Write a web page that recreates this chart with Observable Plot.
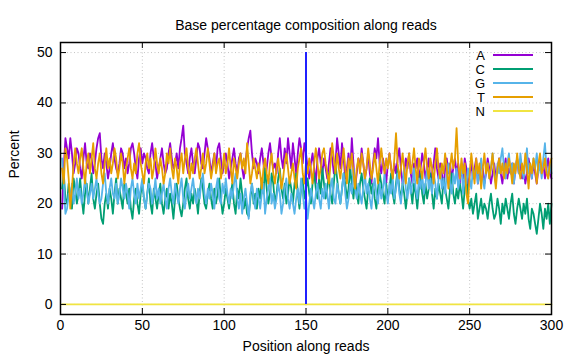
<!DOCTYPE html>
<html><head><meta charset="utf-8">
<script src="https://cdn.jsdelivr.net/npm/d3@7"></script>
<script src="https://cdn.jsdelivr.net/npm/@observablehq/plot@0.6"></script>
<style>body{margin:0;background:#fff;} svg{display:block;}</style>
</head><body><div id="chart"></div>
<script>
const bases = ["A", "C", "G", "T", "N"];
const colors = ["#9400d3", "#009e73", "#56b4e9", "#e69f00", "#f0e442"];
const xTicks = [0, 50, 100, 150, 200, 250, 300];
const yTicks = [0, 10, 20, 30, 40, 50];
const readBoundary = [150];
const title = "Base percentage composition along reads";
const xLabel = "Position along reads";
const yLabel = "Percent";

const A = [
19,27,33,31,29,33,30,26,28,31, 30,27,25,29,32,28,27,30,29,26,
28,31,33,34,29,27,30,28,25,27, 30,32,29,27,26,28,31,30,27,29,
26,28,31,32,30,27,25,29,31,28, 30,29,27,26,30,32,29,28,25,27,
29,31,28,26,27,30,32,29,27,28, 30,27,31,33,35.5,30,28,26,29,31,
28,26,29,32,31,28,27,30,33,31, 29,26,28,30,27,31,32,29,26,28,
30,28,25,27,29,31,28,26,29,30, 27,25,28,31,33,34.5,30,27,29,28,
26,29,31,28,25,27,30,32,29,27, 28,26,30,33,29,27,31,28,33,30,
27,32,29,26,30,33,31,28,32,30, 27,25,28,30,27,24,29,31,28,26,
29,27,25,28,31,29,26,28,33,30, 27,32,29,25,27,30,26,33,28,23,
26,29,27,31,28,25,27,30,26,24, 28,31,29,33,28,26,29,27,24,28,
30,27,25,28,26,29,31,27,24,26, 29,27,30,26,24,28,27,29,25,27,
30,28,25,27,29,24,26,28,31,27, 25,28,26,23,27,29,26,28,25,27,
29,26,28,24,27,25,29,27,23,26, 28,25,27,29,24,26,28,27,24,26,
29,27,24,26,28,25,27,29,26,24, 27,29,25,27,26,28,24,27,29,26,
28,25,27,24,26,29,27,25,28,26, 24,27,29,26,28,25,27,29,26,25
];
const C = [
23,26,21,20,24,22,19,25,23,20, 22,25,21,18,22,24,20,23,26,21,
19,22,24,20,17,16,20,22,19,23, 21,18,22,25,20,23,21,19,24,22,
20,23,19,17,21,23,20,18,22,24, 21,19,22,25,20,18,23,21,19,22,
24,20,18,21,23,19,22,20,17,21, 24,21,19,17.5,20,23,25,21,19,22,
20,23,21,18,22,25,23,20,19,22, 24,21,19,23,20,22,25,21,18,20,
23,21,19,22,24,20,18,23,21,25, 22,19,21,18,17.5,21,24,20,22,19,
23,21,25,22,27,23,20,22,26,24, 20,22,25,27,23,21,24,20,22,25,
23,20,24,26,22,19,23,25,21,23, 25,22,20,24,26,23,21,25,22,27,
24,21,23,26,22,20,24,28,25,22, 20,23,26,24,21,23,27,24,21,25,
22,20,24,26,23,21,19,23,25,22, 24,21,19,23,26,24,22,20,24,21,
23,26,22,20,24,27,23,21,24,22, 19,22,25,23,20,24,22,19,23,26,
22,20,24,21,23,26,22,19,23,21, 24,22,20,25,23,21,19,23,26,22,
20,23,21,24,22,19,23,25,21,19, 21,18,20,22,17,19,21,18,20,19,
17,20,22,19,17,18,21,19,16,20, 18,21,19,17,20,22,18,16,19,21,
19,17,20,18,21,17,15,19,18,16, 14,17,20,18,15,19,17,20,16,20
];
const G = [
29,24,18,19,22,21,24,20,22,25, 21,23,20,22,25,23,20,22,24,21,
23,25,22,20,21,24,26,22,20,23, 25,22,21,24,20,22,25,23,21,24,
22,19,23,25,22,20,24,21,23,25, 21,19,22,24,23,20,22,25,21,23,
20,22,24,21,19,23,25,22,20,24, 22,20,23,25,21,19,22,24,21,23,
25,22,20,23,21,24,26,22,20,23, 21,24,22,19,23,25,21,20,24,22,
25,22,20,23,21,24,26,21,19,22, 18,21,23,20,17,22,24,21,19,23,
21,19,22,24,18,21,23,25,20,22, 19,21,24,22,18,20,23,25,21,19,
22,20,18,21,23,20,25,22,19,21, 17,20,23,21,19,22,24,21,19,23,
21,24,22,19,23,25,21,20,24,22, 20,23,26,22,19,21,24,22,27,23,
21,24,22,20,23,26,22,24,21,19, 23,25,22,20,24,21,23,26,22,20,
24,22,25,21,23,26,22,20,24,27, 23,21,25,22,24,27,23,21,25,23,
26,22,24,27,23,25,22,26,24,21, 25,27,23,25,22,26,28,24,22,26,
24,27,23,25,28,22,26,24,27,25, 23,27,25,28,24,26,29,25,23,27,
28,25,27,30,26,24,28,26,29,31, 27,25,28,30,26,28,24,27,29,26,
30,27,25,28,31,26,28,25,29,27, 30,26,28,25,29,32,27,25,28,26
];
const T = [
27,24,31,29,25,19,23,28,31,28, 26,29,31,27,24,28,30,26,29,32,
27,25,28,30,26,24,28,31,27,29, 26,28,31,29,25,27,30,28,24,27,
29,31,27,25,28,26,30,32,28,26, 24,28,30,27,29,25,27,31,28,26,
29,27,24,26,30,28,31,27,25,29, 27,24,28,30,26,29,31,27,25,28,
26,29,31,28,25,27,30,26,28,31, 28,25,27,30,26,28,29,25,27,30,
26,28,31,27,24,29,27,25,28,30, 27,29,26,32,28,24,26,29,27,25,
28,26,23,27,29,26,24,28,30,26, 24,27,29,26,23,25,28,30,27,24,
26,28,25,23,27,29,31,26,24,28, 26,29,27,24,28,31,28,25,27,30,
31,28,26,24,28,32,29,26,30,27, 25,28,31,27,24,29,27,30,26,23,
27,29,26,30,28,25,27,31,28,25, 27,30,27,24,28,31,28,26,29,27,
30,27,25,29,34,28,25,27,30,27, 24,28,30,26,28,31,27,24,29,27,
25,28,31,27,25,29,27,24,28,31, 27,25,28,26,30,27,23,27,30,27,
29,35,28,25,29,26,28,22,20,26, 30,27,24,29,26,28,23,27,30,26,
28,25,27,30,26,23,27,29,26,28, 25,28,26,29,27,24,28,26,30,27,
25,28,26,30,27,23,28,26,29,27, 24,28,30,26,27,29,26,25,28,29
];
const N = [
0,0,0,0,0,0,0,0,0,0, 0,0,0,0,0,0,0,0,0,0, 0,0,0,0,0,0,0,0,0,0,
0,0,0,0,0,0,0,0,0,0, 0,0,0,0,0,0,0,0,0,0, 0,0,0,0,0,0,0,0,0,0,
0,0,0,0,0,0,0,0,0,0, 0,0,0,0,0,0,0,0,0,0, 0,0,0,0,0,0,0,0,0,0,
0,0,0,0,0,0,0,0,0,0, 0,0,0,0,0,0,0,0,0,0, 0,0,0,0,0,0,0,0,0,0,
0,0,0,0,0,0,0,0,0,0, 0,0,0,0,0,0,0,0,0,0, 0,0,0,0,0,0,0,0,0,0,
0,0,0,0,0,0,0,0,0,0, 0,0,0,0,0,0,0,0,0,0, 0,0,0,0,0,0,0,0,0,0,
0,0,0,0,0,0,0,0,0,0, 0,0,0,0,0,0,0,0,0,0, 0,0,0,0,0,0,0,0,0,0,
0,0,0,0,0,0,0,0,0,0, 0,0,0,0,0,0,0,0,0,0, 0,0,0,0,0,0,0,0,0,0,
0,0,0,0,0,0,0,0,0,0, 0,0,0,0,0,0,0,0,0,0, 0,0,0,0,0,0,0,0,0,0,
0,0,0,0,0,0,0,0,0,0, 0,0,0,0,0,0,0,0,0,0, 0,0,0,0,0,0,0,0,0,0
];
const positions = A.map((_, i) => i + 1);
const series = [A, C, G, T, N];
const rows = bases.flatMap((b, k) => series[k].map((v, i) => ({base: b, pos: positions[i], pct: v})));

const font = "'Liberation Sans', Arial, sans-serif";
const W = 576, H = 360, mL = 60, mR = 25, mT = 42, mB = 46;
const fw = W - mL - mR, fh = H - mT - mB, tl = 6;

function legend(index, scales, values, dimensions) {
  const g = d3.create("svg:g").attr("font-family", font).attr("font-size", 13);
  const right = dimensions.width - dimensions.marginRight;
  bases.forEach((b, i) => {
    const yy = dimensions.marginTop + 13 + 14 * i;
    g.append("text").attr("x", right - 66).attr("y", yy).attr("dy", "0.35em")
      .attr("text-anchor", "end").attr("fill", "#000").text(b);
    g.append("line").attr("x1", right - 58).attr("x2", right - 18)
      .attr("y1", yy).attr("y2", yy).attr("stroke", colors[i]).attr("stroke-width", 2);
  });
  return g.node();
}

const chart = Plot.plot({
  width: W, height: H,
  marginLeft: mL, marginRight: mR, marginTop: mT, marginBottom: mB,
  style: {fontFamily: font, fontSize: "14px", color: "#000", background: "#fff"},
  x: {domain: [0, 300]},
  y: {domain: [-2, 52]},
  color: {domain: bases, range: colors},
  marks: [
    Plot.gridX(xTicks, {stroke: "#c4c4c4", strokeOpacity: 1, strokeDasharray: "1,2.5"}),
    Plot.gridY(yTicks, {stroke: "#c4c4c4", strokeOpacity: 1, strokeDasharray: "1,2.5"}),
    Plot.lineY(rows, {x: "pos", y: "pct", z: "base", stroke: "base", strokeWidth: 1.8}),
    Plot.ruleX(readBoundary, {y1: 0, y2: 50, stroke: "#2020ff", strokeWidth: 2}),
    Plot.tickX(xTicks, {x: d => d, insetTop: fh - tl, stroke: "#000"}),
    Plot.tickX(xTicks, {x: d => d, insetBottom: fh - tl, stroke: "#000"}),
    Plot.tickY(yTicks, {y: d => d, insetRight: fw - tl, stroke: "#000"}),
    Plot.tickY(yTicks, {y: d => d, insetLeft: fw - tl, stroke: "#000"}),
    Plot.frame({stroke: "#000", strokeWidth: 1.5}),
    Plot.axisX(xTicks, {tickSize: 0, tickPadding: 6, label: null, fontSize: 14}),
    Plot.axisY(yTicks, {tickSize: 0, tickPadding: 8, label: null, fontSize: 14}),
    Plot.text([title], {frameAnchor: "top", dy: -22, fontSize: 14}),
    Plot.text([xLabel], {frameAnchor: "bottom", dy: 36, fontSize: 14}),
    Plot.text([yLabel], {frameAnchor: "left", dx: -46, rotate: -90, fontSize: 14}),
    legend
  ]
});
document.getElementById("chart").append(chart);
</script>
</body></html>
